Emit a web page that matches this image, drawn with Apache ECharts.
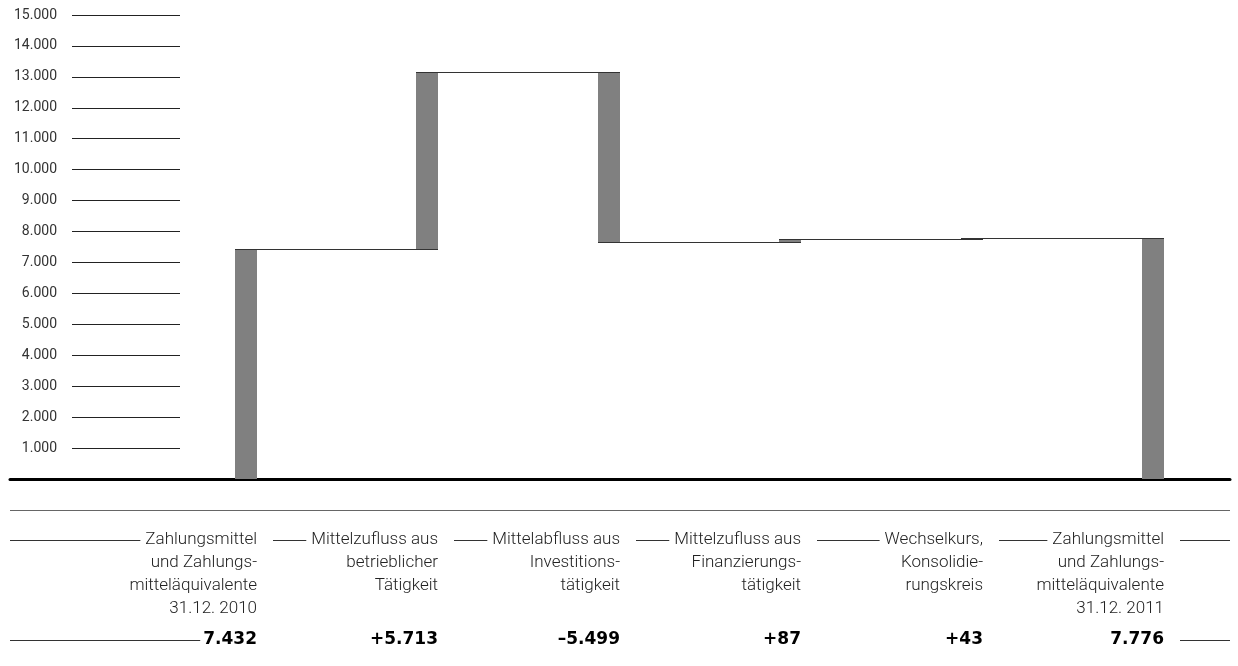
<!DOCTYPE html>
<html>
<head>
<meta charset="utf-8">
<script src="https://cdn.jsdelivr.net/npm/echarts@6/dist/echarts.min.js"></script>
<style>
  html, body { margin: 0; padding: 0; background: #fff; }
  #chart { width: 1238px; height: 666px; }
</style>
</head>
<body>
<div id="chart"></div>
<script>
// ---- data ----
const categories = [
  "Zahlungsmittel\nund Zahlungs-\nmitteläquivalente\n31.12. 2010",
  "Mittelzufluss aus\nbetrieblicher\nTätigkeit",
  "Mittelabfluss aus\nInvestitions-\ntätigkeit",
  "Mittelzufluss aus\nFinanzierungs-\ntätigkeit",
  "Wechselkurs,\nKonsolidie-\nrungskreis",
  "Zahlungsmittel\nund Zahlungs-\nmitteläquivalente\n31.12. 2011"
];
const values = [7432, 5713, -5499, 87, 43, 7776];
const isTotal = [true, false, false, false, false, true];
const valueLabels = ["7.432", "+5.713", "–5.499", "+87", "+43", "7.776"];
const yMin = 0, yMax = 15000, yStep = 1000;

// ---- derived ----
const barData = [];
let running = 0;
values.forEach((v, i) => {
  let lo, hi;
  if (isTotal[i]) { lo = 0; hi = v; running = v; }
  else { lo = running; hi = running + v; running = hi; }
  barData.push([i, Math.min(lo, hi), Math.max(lo, hi), running]);
});

function fmtDE(v) { return String(v).replace(/\B(?=(\d{3})+(?!\d))/g, '.'); }

const measureCtx = document.createElement('canvas').getContext('2d');
function textWidth(s, font) { measureCtx.font = font; return measureCtx.measureText(s).width; }

const LABEL_FONT_FAMILY = 'Roboto';
const LABEL_SIZE = 17;
const LABEL_WEIGHT = 300;
const VALUE_FONT_FAMILY = 'DejaVu Sans';
const VALUE_SIZE = 17;
const BAR_W = 22;
const PX_PER_UNIT = 181.4;
const GRID_LEFT = 10, GRID_RIGHT = 8;
const FIRST_CENTER = 246, LAST_CENTER = 1153;
const xMin = -(FIRST_CENTER - GRID_LEFT) / PX_PER_UNIT;
const xMax = (categories.length - 1) + (1238 - GRID_RIGHT - LAST_CENTER) / PX_PER_UNIT;

const crisp = y => Math.round(y - 0.5) + 0.5;

const chart = echarts.init(document.getElementById('chart'), null, { renderer: 'canvas' });

const option = {
  animation: false,
  backgroundColor: '#fff',
  grid: [
    { left: GRID_LEFT, right: GRID_RIGHT, top: 15, bottom: 187 },
    { left: 72, width: 108, top: 15, bottom: 187 }
  ],
  xAxis: [
    { gridIndex: 0, type: 'value', min: xMin, max: xMax,
      axisLine: { show: true, onZero: true, lineStyle: { color: '#000', width: 3 } },
      axisTick: { show: false }, axisLabel: { show: false }, splitLine: { show: false } },
    { gridIndex: 1, type: 'value', show: false, min: 0, max: 1 }
  ],
  yAxis: [
    { gridIndex: 0, type: 'value', min: yMin, max: yMax, interval: yStep, show: false },
    { gridIndex: 1, type: 'value', min: yMin, max: yMax, interval: yStep,
      axisLine: { show: false }, axisTick: { show: false },
      splitLine: { show: true, lineStyle: { color: '#222', width: 1 } },
      axisLabel: { margin: 15, color: '#333', fontFamily: 'Roboto', fontSize: 14,
        formatter: v => v === 0 ? '' : fmtDE(v) } }
  ],
  series: [
    {
      type: 'custom', xAxisIndex: 0, yAxisIndex: 0, z: 2, clip: false,
      data: barData,
      renderItem: (params, api) => {
        const i = api.value(0);
        const p0 = api.coord([i, api.value(1)]);
        const p1 = api.coord([i, api.value(2)]);
        const top = Math.min(p0[1], p1[1]);
        return { type: 'rect',
          shape: { x: Math.round(p0[0] - BAR_W / 2), y: top, width: BAR_W, height: Math.max(1, Math.abs(p0[1] - p1[1])) },
          style: { fill: '#808080' } };
      }
    },
    {
      type: 'custom', xAxisIndex: 0, yAxisIndex: 0, z: 3, clip: false,
      data: barData.slice(0, barData.length - 1),
      renderItem: (params, api) => {
        const i = api.value(0);
        const end = api.value(3);
        const a = api.coord([i, end]);
        const b = api.coord([i + 1, end]);
        const y = crisp(a[1]);
        return { type: 'line',
          shape: { x1: Math.round(a[0] - BAR_W / 2), y1: y, x2: Math.round(b[0] + BAR_W / 2), y2: y },
          style: { stroke: '#333', lineWidth: 1 } };
      }
    },
    {
      type: 'custom', xAxisIndex: 0, yAxisIndex: 0, z: 4, clip: false,
      data: categories.map((c, i) => [i, 0]),
      renderItem: (params, api) => {
        const i = api.value(0);
        const n = categories.length;
        const cs = params.coordSys;
        const base = api.coord([i, 0]);
        const baseY = cs.y + cs.height;
        const xr = Math.round(base[0] + BAR_W / 2);
        const lfont = LABEL_WEIGHT + ' ' + LABEL_SIZE + 'px ' + LABEL_FONT_FAMILY;
        const vfont = 'bold ' + VALUE_SIZE + 'px "' + VALUE_FONT_FAMILY + '"';
        const lines = categories[i].split('\n');
        const children = [];
        const row0 = baseY + 61;
        const rowH = 22.8;
        lines.forEach((ln, k) => {
          children.push({ type: 'text', style: { text: ln, x: xr, y: row0 + k * rowH,
            align: 'right', verticalAlign: 'middle', font: lfont, fill: '#222' } });
        });
        // value
        const valY = baseY + 161;
        children.push({ type: 'text', style: { text: valueLabels[i], x: xr, y: valY,
          align: 'right', verticalAlign: 'middle', font: vfont, fill: '#000' } });
        const lineStyle = { stroke: '#333', lineWidth: 1 };
        // leading rule on first label row
        const w0 = textWidth(lines[0], lfont);
        let startX;
        if (i === 0) startX = cs.x;
        else {
          const prev = api.coord([i - 1, 0]);
          startX = Math.round(prev[0] + BAR_W / 2) + 16;
        }
        const ry = crisp(row0);
        children.push({ type: 'line', shape: { x1: startX, y1: ry, x2: xr - w0 - 5, y2: ry }, style: lineStyle });
        const vy = crisp(valY);
        if (i === 0) {
          const wv = textWidth(valueLabels[i], vfont);
          children.push({ type: 'line', shape: { x1: cs.x, y1: vy, x2: xr - wv - 3, y2: vy }, style: lineStyle });
          // thin separator rule under the baseline
          const sy = crisp(baseY + 31);
          children.push({ type: 'line', shape: { x1: cs.x, y1: sy, x2: cs.x + cs.width, y2: sy }, style: { stroke: '#666', lineWidth: 1 } });
        }
        if (i === n - 1) {
          children.push({ type: 'line', shape: { x1: xr + 16, y1: ry, x2: cs.x + cs.width, y2: ry }, style: lineStyle });
          children.push({ type: 'line', shape: { x1: xr + 16, y1: vy, x2: cs.x + cs.width, y2: vy }, style: lineStyle });
        }
        return { type: 'group', children };
      }
    }
  ]
};
chart.setOption(option);
</script>
</body>
</html>
